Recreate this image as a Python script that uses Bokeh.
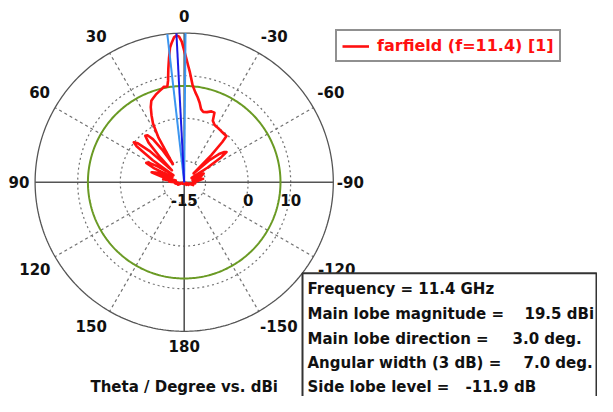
import numpy as np
from bokeh.plotting import figure
from bokeh.models import Range1d, Legend, LegendItem
from bokeh.embed import file_html
from bokeh.resources import INLINE
from bokeh.core.properties import value

# ---------------- data ----------------
theta_deg = [-180, -170, -160, -150, -140, -130, -122, -115, -108, -102, -96, -92,
             -86, -80, -76, -72, -66, -60, -58, -56, -54.5, -53, -51, -49, -47,
             -45, -43.5, -42.5, -40, -36, -32, -28, -25, -23.5, -21, -18, -15, -13, -11, -9, -7,
             -5, -4, -3, -2, -1, 0, 1, 2, 3, 4, 5, 6, 7, 8, 9, 10, 12, 14, 16, 18,
             20, 22, 24, 26, 28, 30, 32, 34, 36, 38, 40, 42, 44, 46, 48, 50, 51.6, 53, 55, 57,
             59, 61, 63, 65, 67, 70, 73, 76, 79, 82, 85, 88, 92, 96, 100, 106, 112, 120, 130,
             140, 150, 160, 170, 180]
gain_dbi = [-14.8, -15.5, -14.6, -15.5, -14.2, -15.0, -13.8, -14.5, -12.8, -13.6, -12.4, -13.0,
            -12.0, -10.5, -13.0, -11.0, -10.0, -13.0, -8.5, -4.5, -2.8, -3.2, -4.5, -7.0, -12.0,
            -6.0, -2.0, -0.3, -0.3, -0.2, 0.0, 0.2, 0.9, 2.8, 2.8, 2.3, 2.1, 2.6, 4.0, 5.2, 6.3,
            7.8, 9.2, 10.8, 12.3, 14.0, 15.9, 18.0, 19.2, 19.5, 19.1, 18.0, 16.8, 14.3, 11.8, 9.2, 7.8, 7.9, 7.4, 7.0, 6.6,
            6.1, 5.6, 4.3, 2.5, 0.6, -3.0, -10.0, -6.0, -2.5, -1.0, -0.8, -2.5, -7.0, -11.0, -4.0, -0.8, 0.1, -1.0, -6.0, -12.0,
            -8.0, -5.5, -5.0, -7.0, -12.0, -8.5, -7.0, -9.5, -13.0, -10.0, -12.5, -11.5, -13.5, -12.8, -13.0, -14.2, -13.4, -15.5, -14.5,
            -15.5, -14.8, -15.5, -14.6, -14.8]

r_min = -15.0
r_max = 20.0
ring_levels = [-10, 0, 10]
ring_label_levels = [-15, 0, 10]
ring_label_text = ["-15", "0", "10"]
angle_ticks = [0, 30, 60, 90, 120, 150, 180, -150, -120, -90, -60, -30]
angle_tick_text = ["0", "30", "60", "90", "120", "150", "180", "-150", "-120", "-90", "-60", "-30"]
main_lobe_dir = 3.0
main_lobe_mag = 19.5
beam_width = 7.0
side_lobe_level = -11.9
series_label = "farfield (f=11.4) [1]"
info_left = ["Frequency = 11.4 GHz", "Main lobe magnitude =", "Main lobe direction =",
             "Angular width (3 dB) =", "Side lobe level ="]
info_right = ["", "19.5 dBi", "3.0 deg.", "7.0 deg.", "-11.9 dB"]
title_text = "Theta / Degree vs. dBi"

# ---------------- layout ----------------
W, H = 597, 396
K = 4.26                 # pixels per dB of radius
CX, CY = 183.7, 181.7    # centre in canvas pixels (from top-left)
FONT = value("DejaVu Sans")
TXT = "#111111"
# canvas-pixel centres of the angle tick labels (same order as angle_ticks)
ANGLE_LABEL_PX = [(183.7, 15), (95.8, 35), (39.1, 91.7), (18.4, 181.7), (34.4, 268.3),
                  (90.7, 325), (183.7, 345.7), (278.3, 325), (336.2, 268.3),
                  (349.9, 181.7), (330.3, 91.7), (273.7, 35)]

def px(xp, yp):
    """canvas-pixel position -> data coordinates"""
    return (xp - CX) / K, (CY - yp) / K

def polar(g, th):
    r = np.clip(np.asarray(g, float) - r_min, 0, None)
    t = np.radians(np.asarray(th, float))
    return -r * np.sin(t), r * np.cos(t)

x0 = -CX / K
y1 = CY / K
p = figure(width=W, height=H, output_backend="svg", toolbar_location=None,
           x_range=Range1d(x0, x0 + W / K), y_range=Range1d(y1 - H / K, y1),
           min_border=0, outline_line_color=None)
p.axis.visible = False
p.grid.visible = False
p.background_fill_color = "white"

R = r_max - r_min
circ = np.linspace(0, 2 * np.pi, 361)

# dotted rings
for lv in ring_levels:
    rr = lv - r_min
    p.line(rr * np.cos(circ), rr * np.sin(circ), line_color="#707070",
           line_width=1.2, line_dash="2 3")
# spokes
for a in angle_ticks:
    if a % 90 == 0:
        continue
    sx, sy = polar([ring_levels[0], r_max], [a, a])
    p.line(sx, sy, line_color="#707070", line_width=1.2, line_dash="3 3")
# outer circle
p.line(R * np.cos(circ), R * np.sin(circ), line_color="#555555", line_width=1.3)
# main axes
hx, hy = polar([r_max, r_max], [90, -90])
p.line(hx, hy, line_color="#555555", line_width=1.6)
vx, vy = polar([r_max, r_max], [0, 180])
p.line(vx, vy, line_color="#555555", line_width=1.6)

# side lobe circle
sl = main_lobe_mag + side_lobe_level - r_min
p.line(sl * np.cos(circ), sl * np.sin(circ), line_color="#6a9a24", line_width=2)

# red pattern
fx, fy = polar(gain_dbi, theta_deg)
red = p.line(fx, fy, line_color="#ff1010", line_width=2.6, line_join="round")

# beam lines
for a, col in [(main_lobe_dir - beam_width / 2, "#3c96f0"), (main_lobe_dir + beam_width / 2, "#3c96f0"),
               (main_lobe_dir, "#1a1ae6")]:
    bx, by = polar([r_min, r_max], [a, a])
    p.line(bx, by, line_color=col, line_width=2)

# angle labels
lx = [px(a, b)[0] for a, b in ANGLE_LABEL_PX]
ly = [px(a, b)[1] for a, b in ANGLE_LABEL_PX]
p.text(lx, ly, text=angle_tick_text, text_font=FONT, text_font_style="bold",
       text_font_size="15px", text_align="center", text_baseline="middle", text_color=TXT)

# ring labels
p.text([lv - r_min for lv in ring_label_levels], [-17.8 / K] * 3, text=ring_label_text,
       text_font=FONT, text_font_style="bold", text_font_size="15px",
       text_align="center", text_baseline="middle", text_color=TXT)

# title
tx, ty = px(183.7, 386.5)
p.text([tx], [ty], text=[title_text], text_font=FONT, text_font_style="bold",
       text_font_size="15px", text_align="center", text_baseline="middle", text_color=TXT)

# info box
bl, bt = px(302, 272.7)
br, bb = px(596, 420)
p.quad(left=[bl], right=[br], top=[bt], bottom=[bb], fill_color="white",
       line_color="#333333", line_width=2)
rows_y = [288.5, 313.2, 338, 362.7, 386.5]
right_x = [0, 524, 512, 523, 465]
for t, v, yy, rx in zip(info_left, info_right, rows_y, right_x):
    ax, ay = px(307, yy)
    p.text([ax], [ay], text=[t], text_font=FONT, text_font_style="bold",
           text_font_size="15px", text_align="left", text_baseline="middle", text_color=TXT)
    if v:
        vx_, vy_ = px(rx, yy)
        p.text([vx_], [vy_], text=[v], text_font=FONT, text_font_style="bold",
               text_font_size="15px", text_align="left", text_baseline="middle", text_color=TXT)

# legend
legend = Legend(items=[LegendItem(label=series_label, renderers=[red])],
                location=(335, 334), margin=0, padding=5, spacing=0,
                glyph_width=27, glyph_height=18, label_height=18, label_standoff=8,
                label_text_font="DejaVu Sans", label_text_font_style="bold",
                label_text_font_size="16px", label_text_color="#ff1010",
                border_line_color="#222222", border_line_width=2,
                background_fill_color="white", background_fill_alpha=1.0)
p.add_layout(legend)

open("out.html", "w").write(file_html(p, INLINE))
